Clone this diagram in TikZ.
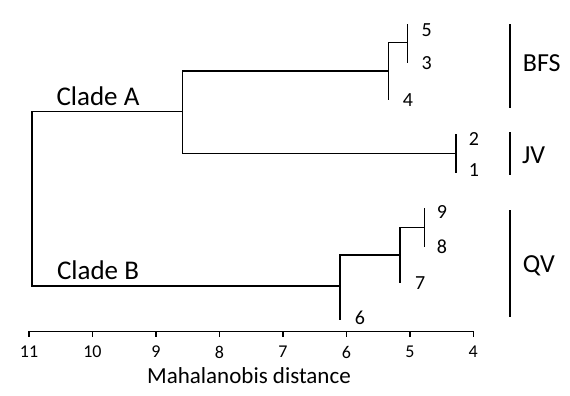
\documentclass[tikz,border=0pt]{standalone}
\usepackage{fontspec}
\setmainfont{Carlito}
\usetikzlibrary{positioning}

\tikzset{
  branch/.style={line width=1.4pt, line cap=rect},
  tip/.style={font=\fontsize{20}{22}\selectfont, inner sep=0pt},
  cladename/.style={font=\fontsize{27}{30}\selectfont, inner sep=0pt},
  groupname/.style={font=\fontsize{26}{28}\selectfont, inner sep=0pt},
  ticklabel/.style={font=\fontsize{18}{20}\selectfont, inner sep=0pt}
}

\begin{document}
\begin{tikzpicture}[x=1pt, y=-1pt]
    \useasboundingbox (0,0) rectangle (570,396);

    % Tree nodes (top and bottom ends of each vertical)
    \coordinate (r1) at (32,111.7);   \coordinate (r2) at (32,286);
    \coordinate (a1) at (182.3,71);   \coordinate (a2) at (182.3,153.7);
    \coordinate (b1) at (388.3,42.7); \coordinate (b2) at (388.3,99);
    \coordinate (c1) at (407.3,25);   \coordinate (c2) at (407.3,62.3);
    \coordinate (j1) at (456,135);    \coordinate (j2) at (456,172.3);
    \coordinate (q1) at (340,255);    \coordinate (q2) at (340,319.3);
    \coordinate (s1) at (400,227.7);  \coordinate (s2) at (400,282.7);
    \coordinate (t1) at (424.3,209);  \coordinate (t2) at (424.3,246);

    \foreach \u/\v in {r1/r2, a1/a2, b1/b2, c1/c2, j1/j2, q1/q2, s1/s2, t1/t2}
        \draw[branch] (\u) -- (\v);
    \foreach \u/\v in {r1/a1, a1/b1, b1/c1, a2/j1, r2/q1, q1/s1, s1/t1}
        \draw[branch] (\u) -- (\u -| \v);

    % Leaves
    \node[tip] (l5) at (426.7,30) {5};
    \node[tip] (l3) at (426.7,63) {3};
    \node[tip] (l4) at (408,100.5) {4};
    \node[tip] (l2) at (474,139) {2};
    \node[tip] (l1) at (474,170.5) {1};
    \node[tip] (l9) at (442,212) {9};
    \node[tip] (l8) at (442,246.3) {8};
    \node[tip] (l7) at (420.3,283) {7};
    \node[tip] (l6) at (360,318) {6};

    \node[cladename] (cladeA) at (98,96) {Clade A};
    \node[cladename] (cladeB) at (98,270) {Clade B};

    % Groups
    \coordinate (g1) at (510,25);    \coordinate (g2) at (510,107);
    \coordinate (g3) at (510,133);   \coordinate (g4) at (510,174);
    \coordinate (g5) at (510,210.7); \coordinate (g6) at (510,316.7);
    \draw[branch] (g1) -- (g2);
    \draw[branch] (g3) -- (g4);
    \draw[branch] (g5) -- (g6);
    \node[groupname] (bfs) at (541.7,63.3) {BFS};
    \node[groupname] (jv) at (533.7,155) {JV};
    \node[groupname] (qv) at (538.8,266) {QV};

    % Axis
    \coordinate (ax0) at (29,331.7);
    \coordinate (ax1) at (473.3,331.7);
    \draw[branch] (ax0) -- (ax1);
    \foreach \d in {4,...,11} {
        \draw[branch] ({29+(11-\d)*63.47},331.7) -- ++(0,5);
        \node[ticklabel] at ({29+(11-\d)*63.47},352) {\d};
    }
    \node[font=\fontsize{23}{26}\selectfont, inner sep=0pt] (axtitle) at (249,375.8) {Mahalanobis distance};
\end{tikzpicture}
\end{document}
